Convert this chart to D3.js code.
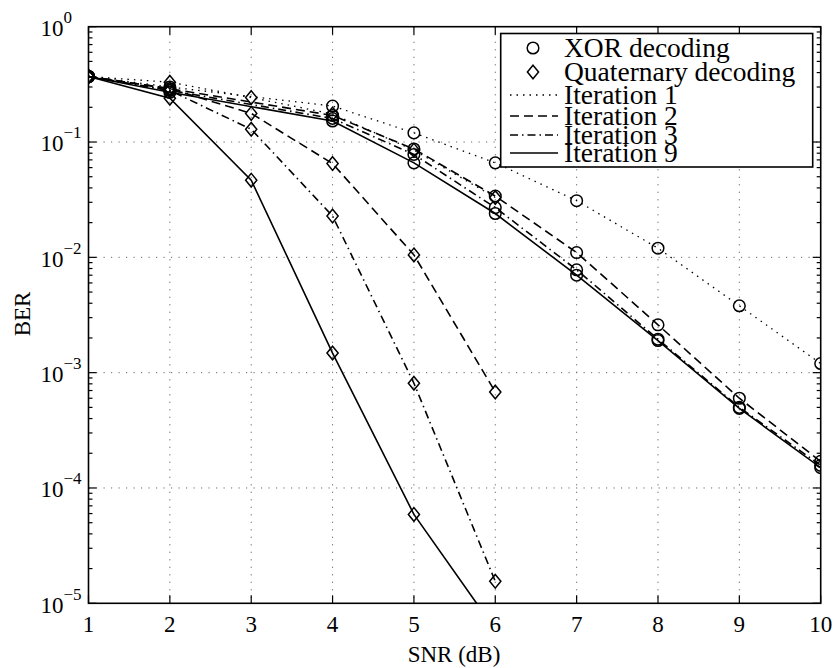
<!DOCTYPE html>
<html>
<head>
<meta charset="utf-8">
<script src="https://cdn.jsdelivr.net/npm/d3@7"></script>
<style>
  html, body { margin: 0; padding: 0; background: #fff; }
  svg { display: block; }
  svg text { font-family: "Liberation Serif", "Times New Roman", serif; }
</style>
</head>
<body>
<svg id="chart" width="837" height="668"></svg>
<script>
// SNR grid points (dB)
const snrXor = [1, 2, 4, 5, 6, 7, 8, 9, 10];
const snrQuat = [1, 2, 3, 4, 5, 6];

// BER, XOR decoding
const xorIter1 = [0.37, 0.30, 0.205, 0.12, 0.066, 0.031, 0.012, 0.0038, 0.0012];
const xorIter2 = [0.37, 0.29, 0.17, 0.087, 0.034, 0.011, 0.0026, 0.0006, 0.00017];
const xorIter3 = [0.37, 0.28, 0.16, 0.078, 0.027, 0.0078, 0.00195, 0.0005, 0.000157];
const xorIter9 = [0.37, 0.27, 0.152, 0.066, 0.024, 0.007, 0.0019, 0.00049, 0.00015];

// BER, quaternary decoding
const quatIter1 = [0.37, 0.33, 0.243, 0.175, 0.085, 0.033];
const quatIter2 = [0.37, 0.29, 0.177, 0.065, 0.0105, 0.00068];
const quatIter3 = [0.37, 0.28, 0.129, 0.0228, 0.00081, 0.0000155];
const quatIter9 = [0.37, 0.24, 0.0467, 0.00148, 0.000059, 0.0000059];

// Axis ticks
const xTicks = [1, 2, 3, 4, 5, 6, 7, 8, 9, 10];
const yExponents = [0, -1, -2, -3, -4, -5];

const legendLabels = ["XOR decoding", "Quaternary decoding", "Iteration 1", "Iteration 2", "Iteration 3", "Iteration 9"];

const dashes = { 1: "1.5,5", 2: "9,5", 3: "8,4,1.5,4", 9: null };

const svg = d3.select("#chart");
const plot = { left: 88.5, right: 820.7, top: 26.7, bottom: 603.3 };

const x = d3.scaleLinear().domain([1, 10]).range([plot.left, plot.right]);
const y = d3.scaleLog().domain([1e-5, 1]).range([plot.bottom, plot.top]);

svg.append("defs").append("clipPath").attr("id", "plotClip")
  .append("rect")
  .attr("x", plot.left).attr("y", plot.top)
  .attr("width", plot.right - plot.left).attr("height", plot.bottom - plot.top);

// Grid
const grid = svg.append("g").attr("stroke", "#666").attr("stroke-width", 1)
  .attr("stroke-dasharray", "1.2,6.3").attr("fill", "none");
xTicks.slice(1, -1).forEach(t => {
  grid.append("line").attr("x1", x(t)).attr("x2", x(t))
    .attr("y1", plot.top).attr("y2", plot.bottom);
});
yExponents.slice(1, -1).forEach(e => {
  grid.append("line").attr("y1", y(Math.pow(10, e))).attr("y2", y(Math.pow(10, e)))
    .attr("x1", plot.left).attr("x2", plot.right);
});

// Ticks (inside, both sides)
const ticks = svg.append("g").attr("stroke", "#000").attr("stroke-width", 1.2);
xTicks.forEach(t => {
  ticks.append("line").attr("x1", x(t)).attr("x2", x(t)).attr("y1", plot.bottom).attr("y2", plot.bottom - 8);
  ticks.append("line").attr("x1", x(t)).attr("x2", x(t)).attr("y1", plot.top).attr("y2", plot.top + 8);
});
yExponents.forEach(e => {
  const yy = y(Math.pow(10, e));
  ticks.append("line").attr("x1", plot.left).attr("x2", plot.left + 8).attr("y1", yy).attr("y2", yy);
  ticks.append("line").attr("x1", plot.right).attr("x2", plot.right - 8).attr("y1", yy).attr("y2", yy);
  if (e > -5) {
    for (let m = 2; m <= 9; m++) {
      const ym = y(m * Math.pow(10, e - 1));
      ticks.append("line").attr("x1", plot.left).attr("x2", plot.left + 4).attr("y1", ym).attr("y2", ym);
      ticks.append("line").attr("x1", plot.right).attr("x2", plot.right - 4).attr("y1", ym).attr("y2", ym);
    }
  }
});

// Tick labels
const xLab = svg.append("g").attr("font-size", 23).attr("text-anchor", "middle").attr("fill", "#000");
xTicks.forEach(t => {
  xLab.append("text").attr("x", x(t)).attr("y", 632).text(t);
});
const yLab = svg.append("g").attr("fill", "#000");
yExponents.forEach(e => {
  const yy = y(Math.pow(10, e));
  const txt = yLab.append("text").attr("x", 40.5).attr("y", yy + 9.3).attr("font-size", 23);
  txt.append("tspan").text("10");
  txt.append("tspan").attr("font-size", 17).attr("dy", -13).text(e === 0 ? "0" : "\u2212" + (-e));
});

// Axis titles
svg.append("text").attr("x", 454).attr("y", 662).attr("text-anchor", "middle")
  .attr("font-size", 23).text("SNR (dB)");
svg.append("text").attr("transform", "translate(30,314) rotate(-90)").attr("text-anchor", "middle")
  .attr("font-size", 23).text("BER");

// Data
const line = d3.line().x(d => x(d[0])).y(d => y(d[1]));
const series = [
  { xs: snrXor, ys: xorIter1, it: 1, mk: "o" },
  { xs: snrXor, ys: xorIter2, it: 2, mk: "o" },
  { xs: snrXor, ys: xorIter3, it: 3, mk: "o" },
  { xs: snrXor, ys: xorIter9, it: 9, mk: "o" },
  { xs: snrQuat, ys: quatIter1, it: 1, mk: "d" },
  { xs: snrQuat, ys: quatIter2, it: 2, mk: "d" },
  { xs: snrQuat, ys: quatIter3, it: 3, mk: "d" },
  { xs: snrQuat, ys: quatIter9, it: 9, mk: "d" }
];

const dataG = svg.append("g").attr("clip-path", "url(#plotClip)");
function diamondPath(cx, cy) {
  return `M${cx},${cy - 6.8}L${cx + 5.6},${cy}L${cx},${cy + 6.8}L${cx - 5.6},${cy}Z`;
}
function drawMarker(g, kind, cx, cy) {
  if (kind === "o") {
    g.append("circle").attr("cx", cx).attr("cy", cy).attr("r", 5.8)
      .attr("fill", "none").attr("stroke", "#000").attr("stroke-width", 1.5);
  } else {
    g.append("path").attr("d", diamondPath(cx, cy))
      .attr("fill", "none").attr("stroke", "#000").attr("stroke-width", 1.5);
  }
}
series.forEach(s => {
  const pts = s.xs.map((v, i) => [v, s.ys[i]]);
  const p = dataG.append("path").attr("d", line(pts)).attr("fill", "none")
    .attr("stroke", "#000").attr("stroke-width", s.it === 1 ? 1.3 : 1.6);
  if (dashes[s.it]) p.attr("stroke-dasharray", dashes[s.it]);
  pts.forEach(d => drawMarker(dataG, s.mk, x(d[0]), y(d[1])));
});

// Axes box
svg.append("rect").attr("x", plot.left).attr("y", plot.top)
  .attr("width", plot.right - plot.left).attr("height", plot.bottom - plot.top)
  .attr("fill", "none").attr("stroke", "#000").attr("stroke-width", 1.6);

// Legend
const lg = svg.append("g");
lg.append("rect").attr("x", 500.7).attr("y", 33.5).attr("width", 312).attr("height", 133.5)
  .attr("fill", "#fff").attr("stroke", "#000").attr("stroke-width", 1.6);
const rowY = [48, 72, 95, 116, 135, 153];
drawMarker(lg, "o", 533, rowY[0]);
drawMarker(lg, "d", 533, rowY[1]);
[1, 2, 3, 9].forEach((it, i) => {
  const l = lg.append("line").attr("x1", 510).attr("x2", 558)
    .attr("y1", rowY[i + 2]).attr("y2", rowY[i + 2])
    .attr("stroke", "#000").attr("stroke-width", it === 1 ? 1.3 : 1.6);
  if (dashes[it]) l.attr("stroke-dasharray", dashes[it]);
});
legendLabels.forEach((t, i) => {
  lg.append("text").attr("x", 564).attr("y", rowY[i] + 8.5).attr("font-size", 27.5).text(t);
});
</script>
</body>
</html>
